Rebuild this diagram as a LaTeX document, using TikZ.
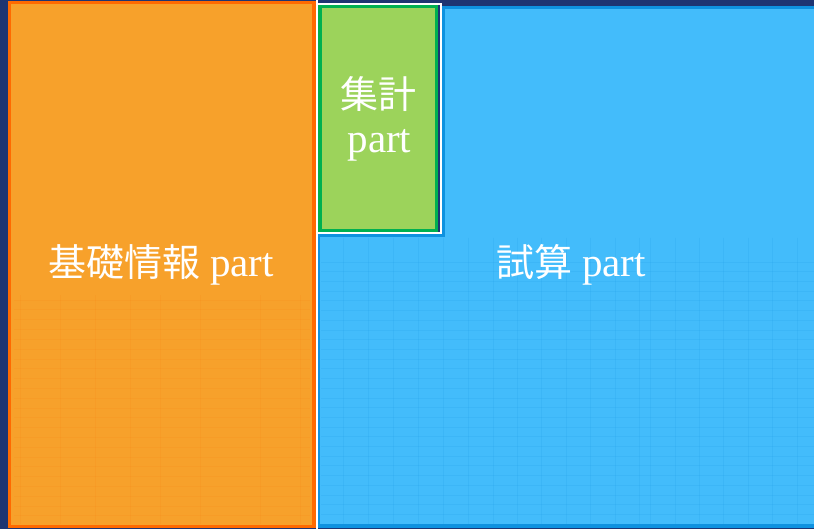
\documentclass[tikz,border=0pt]{standalone}
\usepackage{fontspec}
\setmainfont{Liberation Serif}
\newfontfamily\cjkfam{Noto Sans CJK JP}
\newcommand\jptext[1]{{\cjkfam\fontsize{38}{44}\selectfont #1}}
\definecolor{navybg}{HTML}{1E3572}
\definecolor{orfill}{HTML}{F7A12B}
\definecolor{orline}{HTML}{FF6A00}
\definecolor{grfill}{HTML}{9CD35B}
\definecolor{grline}{HTML}{00B050}
\definecolor{blfill}{HTML}{43BCFB}
\definecolor{blline}{HTML}{0E92E0}
\tikzset{
  lbl/.style={text=white, font=\fontsize{41}{48}\selectfont, anchor=base, inner sep=0pt},
  faint/.style={draw=blline, opacity=0.13, line width=0.6pt},
  faintor/.style={draw=orline, opacity=0.09, line width=0.6pt}
}
\begin{document}
\begin{tikzpicture}[x=1pt,y=-1pt]
\useasboundingbox (0,0) rectangle (814,529);
\clip (0,0) rectangle (814,529);
\fill[navybg] (0,0) rectangle (814,529);
% blue L-shaped area
\filldraw[fill=blfill, draw=blline, line width=3.5pt, line join=miter]
  (318.5,235) -- (443,235) -- (443,7.5) -- (820,7.5) -- (820,526) -- (318.5,526) -- cycle;
% faint spreadsheet grid in the blue area
\foreach \r in {0,...,27} \draw[faint] (321,{262+\r*9.7}) -- (814,{262+\r*9.7});
\foreach \c in {343,368,393,418,443,468,493,517,541,566,590,615,639,650,675,699,723,748,772,797}
  \draw[faint] (\c,238) -- (\c,524);
% orange area
\draw[white, line width=1.5pt] (316.8,0) -- (316.8,529);
\filldraw[fill=orfill, draw=orline, line width=3.5pt] (9.5,2.5) rectangle (314,526.5);
\foreach \r in {0,...,22} \draw[faintor] (14,{300+\r*9.8}) -- (310,{300+\r*9.8});
\foreach \c in {20,60,95,130,160,200,260,300} \draw[faintor] (\c,295) -- (\c,524);
% green area with white outline
\draw[white, line width=2pt] (316.5,4) rectangle (440.5,233.5);
\filldraw[fill=grfill, draw=grline, line width=3.5pt] (320,6.5) rectangle (436.5,230.5);
% labels
\node[lbl] (kiso) at (161,277) {\jptext{基礎情報} part};
\node[lbl] (shisan) at (571,277) {\jptext{試算} part};
\node[lbl] (shukei) at (378,109) {\jptext{集計}};
\node[lbl] (spart) at (379.5,153) {part};
\end{tikzpicture}
\end{document}
